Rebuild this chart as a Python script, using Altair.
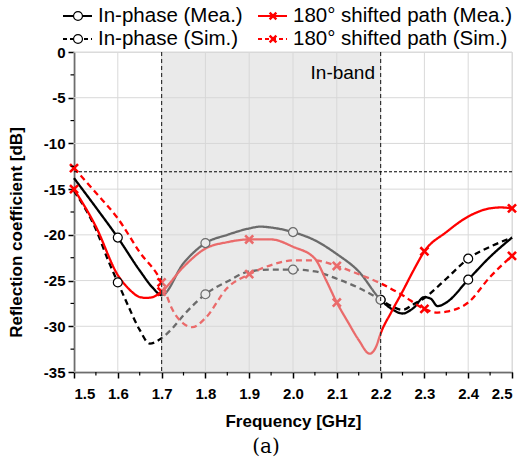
import altair as alt
import pandas as pd

# ---------------- data ----------------
inphase_mea_f = [1.5, 1.55, 1.6, 1.65, 1.68, 1.7, 1.75, 1.8, 1.85, 1.9, 1.925, 1.95, 2.0, 2.05, 2.1, 2.15,
                 2.2, 2.225, 2.25, 2.275, 2.3, 2.315, 2.33, 2.35, 2.4, 2.45, 2.5]
inphase_mea_v = [-13.8, -17.0, -20.3, -23.9, -25.8, -26.6, -23.1, -20.9, -20.0, -19.3, -19.1, -19.2, -19.7, -20.6,
                 -22.1, -24.0, -27.1, -28.1, -28.6, -28.0, -26.8, -27.0, -27.8, -27.4, -24.9, -22.4, -20.3]

inphase_sim_f = [1.5, 1.55, 1.578, 1.6, 1.625, 1.65, 1.673, 1.7, 1.725, 1.75, 1.8, 1.85, 1.9, 1.95, 2.0, 2.05,
                 2.1, 2.15, 2.2, 2.225, 2.25, 2.275, 2.3, 2.35, 2.4, 2.45, 2.5]
inphase_sim_v = [-15.2, -19.4, -22.8, -25.2, -27.9, -30.4, -31.9, -31.3, -30.2, -28.8, -26.5, -25.1, -24.0, -23.8,
                 -23.8, -24.0, -24.8, -25.8, -27.1, -27.8, -28.2, -27.6, -26.9, -24.8, -22.6, -21.3, -20.3]

shifted_mea_f = [1.5, 1.55, 1.6, 1.625, 1.65, 1.665, 1.68, 1.7, 1.75, 1.8, 1.85, 1.9, 1.95, 2.0, 2.05, 2.075,
                 2.1, 2.125, 2.15, 2.175, 2.19, 2.2, 2.225, 2.25, 2.275, 2.3, 2.35, 2.4, 2.45, 2.475, 2.5]
shifted_mea_v = [-15.0, -19.1, -24.4, -25.9, -26.8, -26.9, -26.8, -26.2, -23.5, -21.5, -20.8, -20.5, -20.5, -21.3,
                 -22.6, -24.9, -27.4, -29.5, -31.5, -33.0, -32.2, -30.8, -28.4, -26.2, -23.9, -21.8, -19.7, -18.0,
                 -17.1, -17.0, -17.1]

shifted_sim_f = [1.5, 1.55, 1.6, 1.65, 1.7, 1.725, 1.75, 1.77, 1.8, 1.85, 1.9, 1.95, 2.0, 2.05, 2.1, 2.15, 2.2,
                 2.25, 2.3, 2.33, 2.35, 2.4, 2.45, 2.5]
shifted_sim_v = [-12.7, -15.4, -18.2, -21.9, -25.2, -28.2, -29.7, -30.1, -29.1, -25.8, -24.3, -23.3, -22.8, -22.8,
                 -23.4, -24.3, -25.3, -26.6, -28.1, -28.5, -28.4, -27.4, -24.6, -22.3]

series_names = ["In-phase (Mea.)", "In-phase (Sim.)", "180° shifted path (Mea.)", "180° shifted path (Sim.)"]
circle_freqs = [1.6, 1.8, 2.0, 2.2, 2.4]
cross_freqs = [1.5, 1.7, 1.9, 2.1, 2.3, 2.5]

x_ticks = [1.5, 1.6, 1.7, 1.8, 1.9, 2.0, 2.1, 2.2, 2.3, 2.4, 2.5]
x_minor = [1.55, 1.65, 1.75, 1.85, 1.95, 2.05, 2.15, 2.25, 2.35, 2.45]
y_ticks = [0, -5, -10, -15, -20, -25, -30, -35]
y_minor = [-2.5, -7.5, -12.5, -17.5, -22.5, -27.5, -32.5]
band = [1.7, 2.2]
threshold = -13.1

# ---------------- table ----------------
rows = []
for name, fs, vs in zip(series_names,
                        [inphase_mea_f, inphase_sim_f, shifted_mea_f, shifted_sim_f],
                        [inphase_mea_v, inphase_sim_v, shifted_mea_v, shifted_sim_v]):
    for f, v in zip(fs, vs):
        rows.append({"f": f, "v": v, "series": name})
df = pd.DataFrame(rows)
df["fr"] = df["f"].round(3)
circles = df[df["series"].str.startswith("In-phase") & df["fr"].isin(circle_freqs)]
crosses = df[df["series"].str.startswith("180") & df["fr"].isin(cross_freqs)]

W, H = 438, 320
FONT = "Liberation Sans"

x_axis = alt.Axis(values=x_ticks, labelExpr="format(datum.value, '.1f')", title="Frequency [GHz]",
                  labelFont=FONT, labelFontWeight="bold", labelFontSize=15, labelColor="black",
                  titleFont=FONT, titleFontWeight="bold", titleFontSize=17, titleColor="black",
                  tickColor="black", tickSize=6, tickWidth=1.5, domainColor="black", domainWidth=1.5,
                  grid=False, labelPadding=8, titlePadding=12)
y_axis = alt.Axis(values=y_ticks, labelExpr="'' + datum.value", title="Reflection coefficient [dB]",
                  labelFont=FONT, labelFontWeight="bold", labelFontSize=15, labelColor="black",
                  titleFont=FONT, titleFontWeight="bold", titleFontSize=17, titleColor="black",
                  tickColor="black", tickSize=6, tickWidth=1.5, domainColor="black", domainWidth=1.5,
                  grid=False, labelPadding=3, titleX=-49, titleY=180)
xs = alt.Scale(domain=[1.5, 2.5], nice=False, zero=False)
ys = alt.Scale(domain=[-35, 0], nice=False, zero=False)
X = alt.X("f:Q", scale=xs, axis=x_axis)
Y = alt.Y("v:Q", scale=ys, axis=y_axis)

color_scale = alt.Scale(domain=series_names, range=["black", "black", "red", "red"])
dash_scale = alt.Scale(domain=series_names, range=[[1, 0], [6, 4], [1, 0], [6, 4]])

one = alt.Data(values=[{}])

grid_x = alt.Chart(pd.DataFrame({"f": x_ticks})).mark_rule(color="#d9d9d9", strokeWidth=1).encode(
    x=X, y=alt.value(0), y2=alt.value(H))
grid_y = alt.Chart(pd.DataFrame({"v": y_ticks})).mark_rule(color="#d9d9d9", strokeWidth=1).encode(
    y=Y, x=alt.value(0), x2=alt.value(W))

lines = alt.Chart(df).mark_line(interpolate="monotone", strokeWidth=2.3).encode(
    x=X, y=Y,
    color=alt.Color("series:N", scale=color_scale, legend=None),
    strokeDash=alt.StrokeDash("series:N", scale=dash_scale, legend=None),
    detail="series:N")

circ = alt.Chart(circles).mark_point(shape="circle", filled=True, fill="white", stroke="black",
                                     strokeWidth=1.2, size=80, opacity=1).encode(x=X, y=Y)
CROSS = "M-1,-1L1,1M1,-1L-1,1"
cross = alt.Chart(crosses).mark_point(shape=CROSS, stroke="red", strokeWidth=2.6, size=65,
                                      filled=False, opacity=1).encode(x=X, y=Y)

shade = alt.Chart(pd.DataFrame({"f": [band[0]], "f2": [band[1]]})).mark_rect(
    fill="#d6d6d6", opacity=0.5).encode(x=X, x2="f2:Q", y=alt.value(0), y2=alt.value(H))
band_edges = alt.Chart(pd.DataFrame({"f": band})).mark_rule(
    color="#333333", strokeWidth=1.2, strokeDash=[4, 3]).encode(x=X, y=alt.value(0), y2=alt.value(H))
thresh = alt.Chart(pd.DataFrame({"v": [threshold]})).mark_rule(
    color="black", strokeWidth=1, strokeDash=[3, 2]).encode(y=Y, x=alt.value(0), x2=alt.value(W))
inband_txt = alt.Chart(one).mark_text(text="In-band", font=FONT, fontSize=19, align="right",
                                      baseline="middle", color="black").encode(
    x=alt.value(301), y=alt.value(21))

minor_x = alt.Chart(pd.DataFrame({"f": x_minor})).mark_rule(color="black", strokeWidth=1.2).encode(
    x=X, y=alt.value(H), y2=alt.value(H + 3.5))
minor_y = alt.Chart(pd.DataFrame({"v": y_minor})).mark_rule(color="black", strokeWidth=1.2).encode(
    y=Y, x=alt.value(-3.5), x2=alt.value(0))

caption = alt.Chart(one).mark_text(text="(a)", font="DejaVu Serif", fontSize=20, align="center",
                                   baseline="middle", color="black").encode(
    x=alt.value(192), y=alt.value(395))

legend_layers = []
entries = [
    (series_names[0], -11, -36, "black", [1, 0], "circle"),
    (series_names[1], -11, -13, "black", [4, 3], "circle"),
    (series_names[2], 184, -36, "red", [1, 0], "cross"),
    (series_names[3], 184, -13, "red", [4, 3], "cross"),
]
for label, lx, ly, col, dash, shp in entries:
    legend_layers.append(alt.Chart(one).mark_rule(color=col, strokeWidth=1.8, strokeDash=dash).encode(
        x=alt.value(lx), x2=alt.value(lx + 29), y=alt.value(ly)))
    if shp == "circle":
        legend_layers.append(alt.Chart(one).mark_point(shape="circle", filled=True, fill="white",
                                                       stroke=col, strokeWidth=1.2, size=80, opacity=1).encode(
            x=alt.value(lx + 15), y=alt.value(ly)))
    else:
        legend_layers.append(alt.Chart(one).mark_point(shape=CROSS, stroke=col, strokeWidth=2.4, size=45,
                                                       filled=False, opacity=1).encode(
            x=alt.value(lx + 15), y=alt.value(ly)))
    legend_layers.append(alt.Chart(one).mark_text(text=label, font=FONT, fontSize=20.5, align="left",
                                                  baseline="middle", color="black").encode(
        x=alt.value(lx + 35), y=alt.value(ly)))

chart = alt.layer(
    grid_x, grid_y, lines, circ, cross, shade, band_edges, thresh, inband_txt,
    minor_x, minor_y, caption, *legend_layers
).properties(
    width=W, height=H,
    padding={"left": 74, "top": 52, "right": 11, "bottom": 99},
    autosize=alt.AutoSizeParams(type="none"),
).configure_view(stroke="black", strokeWidth=1.2).configure(background="white")

chart.save("out.html", embed_options={"renderer": "svg", "actions": False})
